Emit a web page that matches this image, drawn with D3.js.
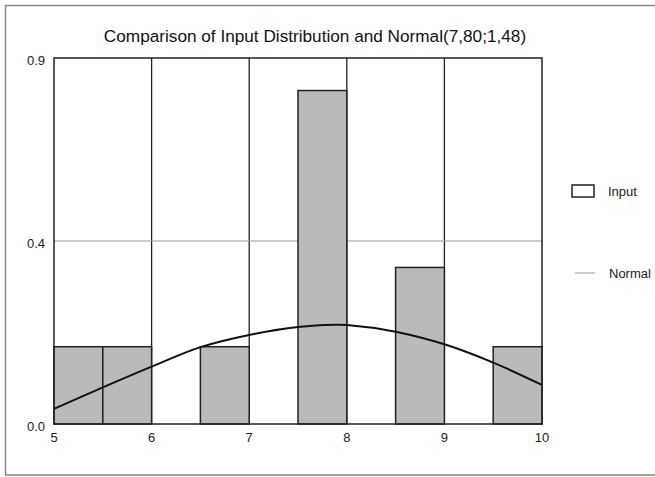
<!DOCTYPE html>
<html><head><meta charset="utf-8">
<script src="https://cdn.jsdelivr.net/npm/d3@7"></script>
<style>html,body{margin:0;padding:0;background:#fff;}svg{display:block;font-family:"Liberation Sans",Arial,sans-serif;}</style>
</head><body>
<script>
const title = "Comparison of Input Distribution and Normal(7,80;1,48)";
const binStart = [5, 5.5, 6.5, 7.5, 8.5, 9.5];
const binEnd   = [5.5, 6, 7, 8, 9, 10];
const binValue = [0.19, 0.19, 0.19, 0.82, 0.385, 0.19];
const curveX = [5, 5.5, 6, 6.5, 7, 7.5, 7.88, 8, 8.5, 9, 9.5, 10];
const curveY = [0.037, 0.090, 0.141, 0.189, 0.219, 0.2385, 0.244, 0.2434, 0.227, 0.196, 0.151, 0.096];
const xTicks = [5, 6, 7, 8, 9, 10];
const xTickLabels = ["5", "6", "7", "8", "9", "10"];
const yTicks = [0, 0.45, 0.9];
const yTickLabels = ["0.0", "0.4", "0.9"];
const legendLabels = ["Input", "Normal"];

const W = 655, H = 477;
const svg = d3.select("body").append("svg").attr("width", W).attr("height", H);

// outer border
svg.append("rect").attr("x", 5.5).attr("y", 5.5).attr("width", 700).attr("height", 469.5)
  .attr("fill", "none").attr("stroke", "#888").attr("stroke-width", 1.5);

const x = d3.scaleLinear().domain([5, 10]).range([54, 542]);
const y = d3.scaleLinear().domain([0, 0.9]).range([424, 58]);

svg.append("text").attr("x", 315).attr("y", 36).attr("text-anchor", "middle")
  .attr("dominant-baseline", "central").attr("font-size", 17.2).attr("fill", "#111").text(title);

// gridlines
const g = svg.append("g");
g.selectAll("line.vg").data(xTicks.slice(1, -1)).join("line")
  .attr("x1", d => x(d)).attr("x2", d => x(d)).attr("y1", y(0.9)).attr("y2", y(0))
  .attr("stroke", "#222").attr("stroke-width", 1.3);
g.selectAll("line.hg").data(yTicks.slice(1, -1)).join("line")
  .attr("x1", x(5)).attr("x2", x(10)).attr("y1", d => y(d)).attr("y2", d => y(d))
  .attr("stroke", "#9a9a9a").attr("stroke-width", 1);

// bars
svg.append("g").selectAll("rect").data(binValue).join("rect")
  .attr("x", (d, i) => x(binStart[i])).attr("width", (d, i) => x(binEnd[i]) - x(binStart[i]))
  .attr("y", d => y(d)).attr("height", d => y(0) - y(d))
  .attr("fill", "#bababa").attr("stroke", "#222").attr("stroke-width", 1.5);

// normal curve
const line = d3.line().x(d => x(d[0])).y(d => y(d[1])).curve(d3.curveCatmullRom.alpha(0.5));
svg.append("path").datum(curveX.map((v, i) => [v, curveY[i]]))
  .attr("d", line).attr("fill", "none").attr("stroke", "#111").attr("stroke-width", 2);

// frame
svg.append("rect").attr("x", x(5)).attr("y", y(0.9)).attr("width", x(10) - x(5)).attr("height", y(0) - y(0.9))
  .attr("fill", "none").attr("stroke", "#222").attr("stroke-width", 1.5);

// axes labels
svg.append("g").selectAll("text").data(xTicks).join("text")
  .attr("x", d => x(d)).attr("y", 437).attr("text-anchor", "middle").attr("dominant-baseline", "central")
  .attr("font-size", 13).attr("fill", "#222").text((d, i) => xTickLabels[i]);
svg.append("g").selectAll("text").data(yTicks).join("text")
  .attr("x", 45).attr("y", d => y(d) + 2).attr("text-anchor", "end").attr("dominant-baseline", "central")
  .attr("font-size", 13).attr("fill", "#222").text((d, i) => yTickLabels[i]);

// legend
const lg = svg.append("g");
lg.append("rect").attr("x", 572).attr("y", 185).attr("width", 22).attr("height", 12)
  .attr("fill", "#fff").attr("stroke", "#222").attr("stroke-width", 1.5);
lg.append("text").attr("x", 608).attr("y", 191.5).attr("dominant-baseline", "central")
  .attr("font-size", 13).attr("fill", "#222").text(legendLabels[0]);
lg.append("line").attr("x1", 575).attr("x2", 595).attr("y1", 273).attr("y2", 273)
  .attr("stroke", "#999").attr("stroke-width", 1);
lg.append("text").attr("x", 609).attr("y", 273).attr("dominant-baseline", "central")
  .attr("font-size", 13).attr("fill", "#222").text(legendLabels[1]);
</script>
</body></html>
